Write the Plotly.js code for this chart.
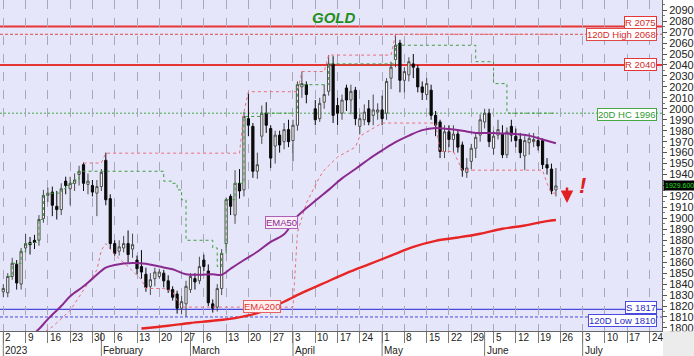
<!DOCTYPE html>
<html><head><meta charset="utf-8">
<script src="https://cdn.plot.ly/plotly-3.0.1.min.js"></script>
<style>html,body{margin:0;padding:0;background:#fff}#chart{width:694px;height:356px}</style>
</head><body><div id="chart"></div>
<script>
// ---------------- DATA ----------------
const candleDates = ['2023-01-02','2023-01-03','2023-01-04','2023-01-05','2023-01-06',
'2023-01-09','2023-01-10','2023-01-11','2023-01-12','2023-01-13',
'2023-01-16','2023-01-17','2023-01-18','2023-01-19','2023-01-20',
'2023-01-23','2023-01-24','2023-01-25','2023-01-26','2023-01-27',
'2023-01-30','2023-01-31','2023-02-01','2023-02-02','2023-02-03',
'2023-02-06','2023-02-07','2023-02-08','2023-02-09','2023-02-10',
'2023-02-13','2023-02-14','2023-02-15','2023-02-16','2023-02-17',
'2023-02-20','2023-02-21','2023-02-22','2023-02-23','2023-02-24',
'2023-02-27','2023-02-28','2023-03-01','2023-03-02','2023-03-03',
'2023-03-06','2023-03-07','2023-03-08','2023-03-09','2023-03-10',
'2023-03-13','2023-03-14','2023-03-15','2023-03-16','2023-03-17',
'2023-03-20','2023-03-21','2023-03-22','2023-03-23','2023-03-24',
'2023-03-27','2023-03-28','2023-03-29','2023-03-30','2023-03-31',
'2023-04-03','2023-04-04','2023-04-05','2023-04-06',
'2023-04-10','2023-04-11','2023-04-12','2023-04-13','2023-04-14',
'2023-04-17','2023-04-18','2023-04-19','2023-04-20','2023-04-21',
'2023-04-24','2023-04-25','2023-04-26','2023-04-27','2023-04-28',
'2023-05-01','2023-05-02','2023-05-03','2023-05-04','2023-05-05',
'2023-05-08','2023-05-09','2023-05-10','2023-05-11','2023-05-12',
'2023-05-15','2023-05-16','2023-05-17','2023-05-18','2023-05-19',
'2023-05-22','2023-05-23','2023-05-24','2023-05-25','2023-05-26',
'2023-05-29','2023-05-30','2023-05-31','2023-06-01','2023-06-02',
'2023-06-05','2023-06-06','2023-06-07','2023-06-08','2023-06-09',
'2023-06-12','2023-06-13','2023-06-14','2023-06-15','2023-06-16',
'2023-06-19','2023-06-20','2023-06-21','2023-06-22','2023-06-23'];
const openP = [1833,1832,1847,1858,1840, 1873,1878,1880,1880,1900, 1921,1924,1911,1908,1934,
1927,1932,1940,1949,1931, 1930,1923,1929,1953,1918, 1877,1870,1873,1877,1872,
1862,1856,1849,1838,1845, 1847,1850,1843,1835,1831, 1818,1822,1835,1845,1843,
1862,1852,1822,1819,1836, 1877,1920,1903,1932,1926, 1991,1984,1943,1975,1996,
1982,1966,1976,1970,1981, 1971,1985,2020,2022, 2000,1991,2006,2016,2041,
2003,1996,2019,2008,2017, 1984,1990,2000,1994,1997, 1999,1996,2028,2045,2060,
2026,2031,2041,2037,2020, 2013,2017,1994,1988,1961, 1979,1972,1977,1967,1942,
1952,1964,1976,1988,1996, 1964,1976,1977,1958,1984, 1975,1972,1957,1969,1970,
1971,1971,1949,1945,1926];
const highP = [1840,1850,1864,1862,1873, 1886,1883,1885,1903,1926, 1928,1929,1925,1932,1938,
1938,1941,1948,1951,1941, 1935,1935,1945,1960,1922, 1880,1880,1884,1889,1886,
1866,1871,1855,1850,1855, 1854,1853,1848,1838,1834, 1829,1843,1850,1850,1865,
1867,1858,1826,1840,1872, 1919,1922,1944,1945,1997, 2014,1987,1960,2003,2006,
1985,1980,1980,1987,1990, 1990,2025,2034,2025, 2008,2010,2022,2049,2048,
2010,2013,2022,2022,2020, 1995,2004,2008,2013,2005, 2012,2028,2043,2068,2063,
2038,2047,2050,2040,2025, 2028,2022,1998,1990,1985, 1985,1985,1980,1970,1955,
1968,1978,1995,2000,2000, 1980,1990,1985,1983,1990, 1982,1978,1975,1978,1978,
1975,1973,1955,1950,1946];
const lowP = [1828,1828,1844,1835,1835, 1869,1867,1872,1875,1896, 1915,1902,1899,1903,1922,
1912,1925,1930,1925,1922, 1920,1902,1925,1912,1872, 1866,1866,1869,1860,1864,
1849,1845,1833,1830,1838, 1845,1837,1832,1825,1813, 1813,1810,1832,1835,1840,
1852,1820,1814,1815,1830, 1870,1903,1895,1918,1920, 1975,1937,1936,1968,1978,
1946,1950,1960,1963,1965, 1952,1980,2010,2005, 1985,1988,2000,2012,1987,
1985,1990,1998,1995,1985, 1977,1985,1985,1985,1990, 1985,1990,2018,2038,2015,
2015,2025,2028,2015,2008, 2008,1990,1975,1955,1955, 1965,1960,1960,1938,1937,
1945,1955,1970,1982,1965, 1958,1972,1955,1955,1970, 1965,1955,1944,1958,1965,
1962,1945,1940,1922,1920];
const closeP = [1836,1847,1859,1841,1870, 1877,1876,1878,1899,1921, 1923,1912,1908,1927,1930,
1932,1935,1943,1932,1934, 1924,1929,1942,1917,1877, 1868,1874,1877,1867,1876,
1854,1851,1837,1844,1851, 1851,1843,1835,1828,1818, 1824,1838,1847,1842,1856,
1856,1823,1818,1836,1868, 1917,1911,1932,1925,1993, 1985,1943,1949,1996,1985,
1955,1976,1967,1981,1970, 1985,2022,2023,2013, 1990,2005,2013,2041,1994,
1996,2008,2008,2016,1991, 1991,1997,1988,1999,1999, 1991,2025,2038,2058,2026,
2034,2043,2038,2020,2015, 2023,1994,1985,1961,1979, 1972,1977,1965,1944,1946,
1964,1974,1990,1996,1970, 1975,1981,1958,1979,1976, 1971,1960,1971,1973,1972,
1966,1949,1946,1925,1929.6];

// EMA 50 (purple) and EMA 200 (red)
const ema50Dates = ['2023-01-09','2023-01-12','2023-01-16','2023-01-19','2023-01-23','2023-01-26','2023-01-30',
'2023-02-02','2023-02-06','2023-02-10','2023-02-15','2023-02-20','2023-02-23','2023-02-28','2023-03-03',
'2023-03-08','2023-03-10','2023-03-14','2023-03-17','2023-03-22','2023-03-27','2023-03-30','2023-04-04',
'2023-04-10','2023-04-13','2023-04-18','2023-04-21','2023-04-26','2023-05-01','2023-05-04','2023-05-09',
'2023-05-12','2023-05-17','2023-05-22','2023-05-25','2023-05-30','2023-06-02','2023-06-07','2023-06-12',
'2023-06-15','2023-06-20','2023-06-23'];
const ema50 = [1788,1799,1808,1820,1829,1838,1845, 1855,1857.5,1859.3,1858.5,1856,1853.5,1849,1848.5,
1849,1848.5,1854,1862,1869.5,1878.5,1885.5,1902, 1916,1926,1936.5,1945,1954,1962,1969.5,1975.5,
1980.5,1982.5,1981.5,1980,1978,1978,1977.5,1977, 1975.5,1972,1968.5];
const ema200Dates = ['2023-02-14','2023-02-22','2023-03-01','2023-03-08','2023-03-15','2023-03-22','2023-03-29',
'2023-04-05','2023-04-12','2023-04-19','2023-04-26','2023-05-03','2023-05-10','2023-05-17','2023-05-24',
'2023-05-31','2023-06-07','2023-06-14','2023-06-21','2023-06-23'];
const ema200 = [1799.5,1802,1804.5,1806.5,1809,1813.5,1822, 1832,1841,1850,1858,1866,1874,1879.5,1882.5,
1886,1890.5,1893.5,1897.5,1898.5];

// 20-day highest close (green dotted, stepped)
const hcDates = ['2023-01-03','2023-01-04','2023-01-06','2023-01-09','2023-01-11','2023-01-12','2023-01-13',
'2023-01-16','2023-01-19','2023-01-20','2023-01-23','2023-01-24','2023-01-25','2023-02-21','2023-02-23',
'2023-02-24','2023-02-27','2023-02-28','2023-03-08','2023-03-09','2023-03-10','2023-03-13','2023-03-15',
'2023-03-17','2023-03-23','2023-04-04','2023-04-13','2023-05-04','2023-05-30','2023-06-05','2023-06-08','2023-06-23'];
const hcValues = [1847,1859,1870,1877,1878,1899,1921, 1923,1927,1930,1932,1935,1943,1934,1932,
1926,1917,1880,1873,1856,1868,1917,1932, 1993,1996,2022,2041,2058,2043,2023,1996,1996];

// upper and lower pink dotted bands
const bandHighDates = ['2023-01-26','2023-02-01','2023-02-02','2023-03-16','2023-03-17','2023-03-20','2023-04-04',
'2023-04-05','2023-04-12','2023-04-13','2023-05-03','2023-05-04','2023-06-23'];
const bandHigh = [1950.5,1950.5,1959.5,1959.5,1997,2015.6,2015.6,2034,2034,2049,2049,2068,2068];
const bandLowDates = ['2023-01-09','2023-01-17','2023-01-23','2023-01-27','2023-01-31','2023-02-01','2023-02-02',
'2023-02-06','2023-02-09','2023-02-14','2023-02-15','2023-02-21','2023-02-23','2023-02-24','2023-02-27',
'2023-04-03','2023-04-04','2023-04-06','2023-04-11','2023-04-12','2023-04-17','2023-04-21','2023-04-24',
'2023-05-01','2023-05-17','2023-05-18','2023-05-23','2023-05-25','2023-06-20','2023-06-21','2023-06-22','2023-06-23'];
const bandLow = [1785,1801,1816,1841,1853,1871,1877, 1867,1856,1844,1836,1836,1833,1825,1819,
1819,1887,1914,1938,1944,1956,1965,1975, 1987,1987,1961,1961,1944,1944,1932,1923,1923];

// horizontal levels
const levelValues = [2075, 2068, 2040, 1996, 1817, 1810];
const levelLabels = ['R 2075','120D High 2068','R 2040','20D HC 1996','S 1817','120D Low 1810'];

// axis labels
const weekTicks = ['2023-01-02','2023-01-09','2023-01-16','2023-01-23','2023-01-30','2023-02-06','2023-02-13',
'2023-02-20','2023-02-27','2023-03-06','2023-03-13','2023-03-20','2023-03-27','2023-04-03','2023-04-10',
'2023-04-17','2023-04-24','2023-05-01','2023-05-08','2023-05-15','2023-05-22','2023-05-29','2023-06-05',
'2023-06-12','2023-06-19','2023-06-26','2023-07-03','2023-07-10','2023-07-17','2023-07-24'];
const weekLabels = ['2','9','16','23','30','6','13','20','27','6','13','20','27','3','10','17','24',
'1','8','15','22','29','5','12','19','26','3','10','17','24'];
const monthTicks = ['2023-01-02','2023-02-01','2023-03-01','2023-04-03','2023-05-01','2023-06-01','2023-07-03'];
const monthLabels = ['2023','February','March','April','May','June','July'];
const priceTicks = [1800,1810,1820,1830,1840,1850,1860,1870,1880,1890,1900,1910,1920,1930,1940,1950,
1960,1970,1980,1990,2000,2010,2020,2030,2040,2050,2060,2070,2080,2090];
const priceTickLabels = ['1800','1810','1820','1830','1840','1850','1860','1870','1880','1890','1900','1910',
'1920','','1940','1950','1960','1970','1980','1990','2000','2010','2020','2030','2040','2050','2060',
'2070','2080','2090'];

const lastPrice = 1929.6;
const titleText = 'GOLD';
const signalPrice = 1914;

// ---------------- STYLES ----------------
const FONT = 'Arial, "Liberation Sans", sans-serif';
const W = 662, H = 331; // plot area px
const levelStyles = [
  {color:'#e53535', width:2, dash:'solid', text:'#d42a2a', yshift:4},
  {color:'#e04848', width:1, dash:'3px,2px', text:'#d42a2a', yshift:0},
  {color:'#e53535', width:2, dash:'solid', text:'#d42a2a', yshift:0},
  {color:'#44a844', width:1, dash:'2px,2px', text:'#2f9a2f', yshift:-1},
  {color:'#4a4ae0', width:1.3, dash:'solid', text:'#2a2ac8', yshift:2},
  {color:'#4a4ae0', width:1, dash:'3px,2px', text:'#2a2ac8', yshift:-4}
];

const traces = [
  {type:'scatter', mode:'lines', x:bandLowDates, y:bandLow, line:{color:'#e8707c', width:1, dash:'dot'}, hoverinfo:'skip'},
  {type:'scatter', mode:'lines', x:bandHighDates, y:bandHigh, line:{color:'#e8707c', width:1, dash:'dot'}, hoverinfo:'skip'},
  {type:'scatter', mode:'lines', x:hcDates, y:hcValues, line:{color:'#3e9e3e', width:1, dash:'dot', shape:'hv'}, hoverinfo:'skip'},
  {type:'scatter', mode:'lines', x:ema200Dates, y:ema200, line:{color:'#e82525', width:2.4, shape:'spline'}, hoverinfo:'skip'},
  {type:'scatter', mode:'lines', x:ema50Dates, y:ema50, line:{color:'#8a2a8e', width:2, shape:'spline'}, hoverinfo:'skip'},
  {type:'candlestick', x:candleDates, open:openP, high:highP, low:lowP, close:closeP,
   increasing:{line:{color:'#4a4a4a', width:1}, fillcolor:'#ffffff'},
   decreasing:{line:{color:'#0a0a0a', width:1}, fillcolor:'#0a0a0a'},
   whiskerwidth:0, width:0.62*86400000, hoverinfo:'skip'}
];

const shapes = [];
levelValues.forEach((v,i)=>{
  const s = levelStyles[i];
  shapes.push({type:'line', xref:'paper', x0:0, x1:1, yref:'y', y0:v, y1:v, layer:'below',
    line:{color:s.color, width:s.width, dash:s.dash}});
});
monthTicks.forEach(d=>{
  shapes.push({type:'line', xref:'x', x0:d, x1:d, yref:'paper', y0:0, y1:-25/H, line:{color:'#777', width:1}});
});
shapes.push({type:'rect', xref:'paper', x0:1.0015, x1:1.06, yref:'paper', y0:-0.001, y1:-26/H,
  fillcolor:'#ececec', line:{width:0}});

const annotations = [];
levelValues.forEach((v,i)=>{
  const s = levelStyles[i];
  annotations.push({xref:'paper', x:656.5/W, xanchor:'right', yref:'y', y:v, yanchor:'middle',
    yshift:s.yshift, text:levelLabels[i], showarrow:false, bgcolor:'#ffffff', bordercolor:s.color,
    borderwidth:1, borderpad:0, font:{family:FONT, size:9.5, color:s.text}});
});
weekTicks.forEach((d,i)=>{
  annotations.push({xref:'x', x:d, xanchor:'left', xshift:0, yref:'paper', y:-6.5/H, yanchor:'middle',
    text:weekLabels[i], showarrow:false, font:{family:FONT, size:10, color:'#222'}});
});
monthTicks.forEach((d,i)=>{
  annotations.push({xref:'x', x:d, xanchor:'left', xshift:0, yref:'paper', y:-19.5/H, yanchor:'middle',
    text:monthLabels[i], showarrow:false, font:{family:FONT, size:10, color:'#222'}});
});
annotations.push({xref:'x', x:'2023-03-29', xanchor:'center', xshift:2, yref:'y', y:1896, yanchor:'middle',
  text:'EMA50', showarrow:false, bgcolor:'#f8eef8', bordercolor:'#b060b4', borderwidth:1, borderpad:0,
  font:{family:FONT, size:9.5, color:'#8a2a8e'}});
annotations.push({xref:'x', x:'2023-03-23', xanchor:'center', yref:'y', y:1819.6, yanchor:'middle',
  text:'EMA200', showarrow:false, bgcolor:'#fff0f0', bordercolor:'#e86060', borderwidth:1, borderpad:0,
  font:{family:FONT, size:9.5, color:'#e03030'}});
annotations.push({xref:'paper', x:333/W, xanchor:'center', yref:'paper', y:1-17/H, yanchor:'middle',
  text:'<b><i>'+titleText+'</i></b>', showarrow:false, font:{family:FONT, size:15, color:'#1f8f1f'}});
annotations.push({xref:'paper', x:1, xanchor:'left', xshift:0.5, yref:'y', y:lastPrice, yanchor:'middle',
  text:lastPrice.toFixed(3), showarrow:false, bgcolor:'#000000', borderpad:1,
  font:{family:FONT, size:7, color:'#22e022'}});
annotations.push({xref:'paper', x:567/W, yref:'y', y:signalPrice, text:'', showarrow:true,
  ax:0, ay:-17, arrowhead:2, arrowsize:1, arrowwidth:2.5, arrowcolor:'#e02020'});
annotations.push({xref:'paper', x:582/W, xanchor:'center', yref:'y', y:1930, yanchor:'middle',
  text:'!', showarrow:false, font:{family:FONT, size:22, weight:'bold', style:'italic', color:'#e02020'}});

const layout = {
  width:694, height:356,
  margin:{l:0, r:32, t:0, b:25},
  paper_bgcolor:'#ffffff', plot_bgcolor:'#e6e6fa',
  showlegend:false,
  font:{family:FONT, size:10, color:'#222'},
  xaxis:{type:'date', range:['2022-12-30 06:14','2023-07-26 19:12'],
    rangebreaks:[{bounds:['sat','mon']}],
    tickmode:'array', tickvals:weekTicks, showticklabels:false,
    ticks:'outside', ticklen:11, tickcolor:'#777', tickwidth:1,
    showgrid:true, gridcolor:'#a8a8ba', griddash:'dash', gridwidth:1,
    showline:true, linecolor:'#666', linewidth:1, zeroline:false,
    rangeslider:{visible:false}, fixedrange:true},
  yaxis:{side:'right', range:[1797.2, 2099.3], tickmode:'array', tickvals:priceTicks, ticktext:priceTickLabels,
    ticks:'outside', ticklen:4, tickcolor:'#555', showgrid:false,
    showline:true, linecolor:'#666', zeroline:false, fixedrange:true,
    tickfont:{family:FONT, size:11, color:'#222'},
    minor:{dtick:5, ticks:'outside', ticklen:2, tickcolor:'#777', showgrid:false}},
  shapes:shapes,
  annotations:annotations
};

Plotly.newPlot('chart', traces, layout, {staticPlot:true, displayModeBar:false});
</script>
</body></html>
